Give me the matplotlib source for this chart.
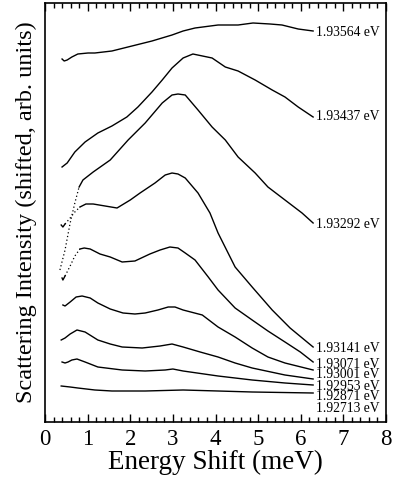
import matplotlib
matplotlib.use('Agg')
import matplotlib.pyplot as plt
from matplotlib.ticker import MultipleLocator

plt.rcParams['font.family'] = ['Liberation Serif', 'DejaVu Serif']

# curves, top to bottom; intensity in arbitrary (shifted) units
labels = ['1.93564 eV', '1.93437 eV', '1.93292 eV', '1.93141 eV', '1.93071 eV',
          '1.93001 eV', '1.92953 eV', '1.92871 eV', '1.92713 eV']

x1 = [0.40, 0.45, 0.52, 0.63, 0.77, 1.01, 1.17, 1.57, 2.04, 2.51, 2.98, 3.24, 3.52,
      4.06, 4.53, 4.88, 5.28, 5.56, 5.94, 6.29]
y1 = [363, 361, 362, 365, 368, 369, 369, 371, 376, 381, 387, 391, 394,
      397, 397, 399, 398, 397, 393, 391]

x2 = [0.40, 0.52, 0.70, 0.94, 1.24, 1.57, 1.92, 2.18, 2.51, 2.75, 2.98, 3.24, 3.47,
      3.92, 4.23, 4.53, 4.93, 5.33, 5.63, 5.94, 6.29]
y2 = [255, 259, 270, 280, 289, 296, 305, 315, 330, 342, 354, 364, 368,
      364, 355, 351, 342, 332, 325, 315, 305]

# dotted low-energy part, then solid part
x3d = [0.35, 0.47, 0.59, 0.70, 0.80]
y3d = [152, 172, 199, 219, 235]
x3 = [0.80, 0.89, 1.13, 1.53, 1.95, 2.35, 2.75, 2.98, 3.12, 3.29, 3.59, 3.92, 4.23,
      4.53, 4.93, 5.23, 5.63, 6.03, 6.29]
y3 = [235, 242, 250, 262, 282, 299, 319, 327, 328, 327, 312, 295, 282,
      265, 249, 235, 222, 209, 199]

x4h = [0.38, 0.42, 0.47]
y4h = [197, 195, 198]
x4d = [0.47, 0.59, 0.70, 0.82]
y4d = [198, 204, 210, 215]
x4 = [0.82, 0.96, 1.13, 1.41, 1.69, 2.00, 2.23, 2.58, 2.82, 2.98, 3.12, 3.29, 3.59,
      3.87, 4.06, 4.46, 4.86, 5.33, 5.75, 6.29]
y4 = [215, 218, 218, 216, 214, 222, 229, 239, 247, 249, 248, 244, 229,
      209, 189, 155, 135, 112, 94, 75]

x5h = [0.40, 0.42, 0.47]
y5h = [144, 142, 146]
x5d = [0.47, 0.59, 0.70, 0.82]
y5d = [146, 156, 166, 173]
x5 = [0.82, 0.92, 1.06, 1.29, 1.53, 1.81, 2.11, 2.46, 2.70, 2.93, 3.12, 3.29, 3.52,
      3.83, 4.06, 4.46, 4.86, 5.23, 5.63, 5.99, 6.29]
y5 = [173, 174, 173, 168, 165, 160, 161, 168, 172, 175, 174, 169, 162,
      145, 132, 114, 102, 91, 80, 70, 60]

x6 = [0.42, 0.47, 0.59, 0.73, 0.87, 1.06, 1.24, 1.53, 1.83, 2.11, 2.35, 2.65, 2.89,
      3.05, 3.24, 3.69, 4.06, 4.46, 4.86, 5.23, 5.63, 6.29]
y6 = [117, 116, 120, 125, 126, 124, 119, 113, 109, 108, 109, 112, 115,
      115, 112, 107, 95, 85, 74, 65, 59, 52]

x7 = [0.38, 0.47, 0.59, 0.75, 0.94, 1.24, 1.53, 1.81, 2.28, 2.70, 2.98, 3.24, 3.64,
      4.06, 4.46, 4.86, 5.63, 6.29]
y7 = [82, 84, 88, 92, 90, 82, 78, 75, 74, 76, 78, 75, 70,
      65, 59, 54, 47, 43]

x8 = [0.40, 0.47, 0.54, 0.63, 0.75, 0.94, 1.24, 1.81, 2.35, 2.82, 3.00, 3.24, 4.06,
      4.86, 5.63, 6.29]
y8 = [60, 59, 60, 62, 63, 60, 55, 52, 51, 52, 53, 51, 46,
      42, 39, 37]

x9 = [0.38, 0.59, 0.77, 1.17, 1.57, 2.35, 3.24, 4.06, 4.86, 6.29]
y9 = [36, 35, 34, 32, 31, 31, 32, 31, 30, 29]

label_y = [389, 305, 197, 74, 57, 47, 36, 25, 14]

fig = plt.figure(figsize=(3.93, 4.79), dpi=100)
ax = fig.add_axes([45/393, 57/479, 341/393, 419/479])

lw = 1.0
for xs, ys in [(x1, y1), (x2, y2), (x3, y3), (x4h, y4h), (x4, y4), (x5h, y5h),
               (x5, y5), (x6, y6), (x7, y7), (x8, y8), (x9, y9)]:
    ax.plot(xs, ys, color='black', lw=lw)
for xs, ys in [(x3d, y3d), (x4d, y4d), (x5d, y5d)]:
    ax.plot(xs, ys, color='black', lw=0.9, linestyle=(0, (1, 2)))

for lab, yy in zip(labels, label_y):
    ax.text(6.36, yy, lab, fontsize=9.8, va='center', ha='left')

ax.set_xlim(0, 8)
ax.set_ylim(0, 419)
ax.xaxis.set_major_locator(MultipleLocator(1))
ax.xaxis.set_minor_locator(MultipleLocator(0.2))
ax.tick_params(axis='x', which='both', direction='in', top=True, bottom=True,
               labelsize=16.5, pad=5, width=1.0)
ax.tick_params(axis='x', which='major', length=6)
ax.tick_params(axis='x', which='minor', length=3.5)
ax.set_yticks([])
for s in ax.spines.values():
    s.set_linewidth(1.2)

ax.set_xlabel('Energy Shift (meV)', fontsize=19.5, labelpad=0)
ax.set_ylabel('Scattering Intensity (shifted, arb. units)', fontsize=17.5, labelpad=6)

fig.savefig('out.png', dpi=100)
